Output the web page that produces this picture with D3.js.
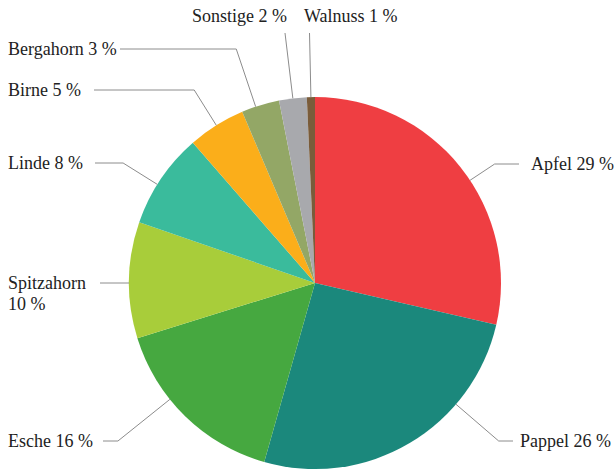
<!DOCTYPE html>
<html>
<head>
    <meta charset="utf-8" />
    <title>Baumarten</title>
    <script src="https://d3js.org/d3.v7.min.js"></script>
    <style>
        body { margin: 0; background: #fff; }
        svg { display: block; }
        text { font-family: "Liberation Serif", serif; font-size: 18px; fill: #222; }
    </style>
</head>
<body>
    <svg width="614" height="470"></svg>
    <script>
        // data
        var names = ["Apfel", "Pappel", "Esche", "Spitzahorn", "Linde", "Birne", "Bergahorn", "Sonstige", "Walnuss"];
        var shares = [28.6, 25.8, 15.8, 10.1, 8.3, 5.0, 3.3, 2.4, 0.7];
        var pctLabels = ["29 %", "26 %", "16 %", "10 %", "8 %", "5 %", "3 %", "2 %", "1 %"];
        var colors = ["#ef3e42", "#1b887c", "#46a840", "#a8cd3a", "#3abb9c", "#fbae1a", "#93a766", "#a8a9ad", "#7a5c3a"];

        // label layout: angle nudge (deg), leader target, text position
        var layout = {
            "Apfel":      { nudge: 5,    y: 164, endX: 519, tx: 531, ty: 170 },
            "Pappel":     { nudge: -18.7, y: 441, endX: 513, tx: 520, ty: 447 },
            "Esche":      { nudge: 7,    y: 441, endX: 103, tx: 8,   ty: 447 },
            "Spitzahorn": { nudge: -0.9, x: 100,            tx: 8,   ty: 289, wrap: true },
            "Linde":      { nudge: -2,   y: 163, endX: 95,  tx: 8,   ty: 169 },
            "Birne":      { nudge: 0,    y: 90,  endX: 94,  tx: 8,   ty: 96 },
            "Bergahorn":  { nudge: -1.5, y: 49,  endX: 120, tx: 8,   ty: 55 },
            "Sonstige":   { nudge: 0,    y: 33,             tx: 192, ty: 22 },
            "Walnuss":    { nudge: 0,    y: 33,             tx: 304, ty: 22 }
        };

        var data = names.map(function (n, i) {
            return { name: n, share: shares[i], label: pctLabels[i], color: colors[i] };
        });

        var svg = d3.select("svg"),
            cx = 315, cy = 283,
            radius = 186;

        var g = svg.append("g").attr("transform", "translate(" + cx + "," + cy + ")");

        var pie = d3.pie().sort(null).value(function (d) { return d.share; });
        var arc = d3.arc().outerRadius(radius).innerRadius(0);
        var arcs = pie(data);

        g.selectAll("path.slice")
            .data(arcs)
            .enter()
            .append("path")
            .attr("class", "slice")
            .attr("d", arc)
            .attr("fill", function (d) { return d.data.color; });

        // leader lines + labels
        arcs.forEach(function (d) {
            var L = layout[d.data.name];
            var a = (d.startAngle + d.endAngle) / 2 + L.nudge * Math.PI / 180;
            var sx = Math.sin(a), sy = -Math.cos(a);
            var p0 = [sx * radius, sy * radius];
            var r2;
            if (L.y !== undefined) r2 = (L.y - cy) / sy;
            else r2 = (L.x - cx) / sx;
            var p1 = [sx * r2, sy * r2];
            var pts = [p0, p1];
            if (L.endX !== undefined) pts.push([L.endX - cx, p1[1]]);

            g.append("path")
                .attr("d", d3.line()(pts))
                .attr("fill", "none")
                .attr("stroke", "#8c8c8c")
                .attr("stroke-width", 1);

            var t = svg.append("text")
                .attr("x", L.tx)
                .attr("y", L.ty);
            if (L.wrap) {
                t.append("tspan").attr("x", L.tx).text(d.data.name);
                t.append("tspan").attr("x", L.tx).attr("dy", 21).text(d.data.label);
            } else {
                t.text(d.data.name + " " + d.data.label);
            }
        });
    </script>
</body>
</html>
